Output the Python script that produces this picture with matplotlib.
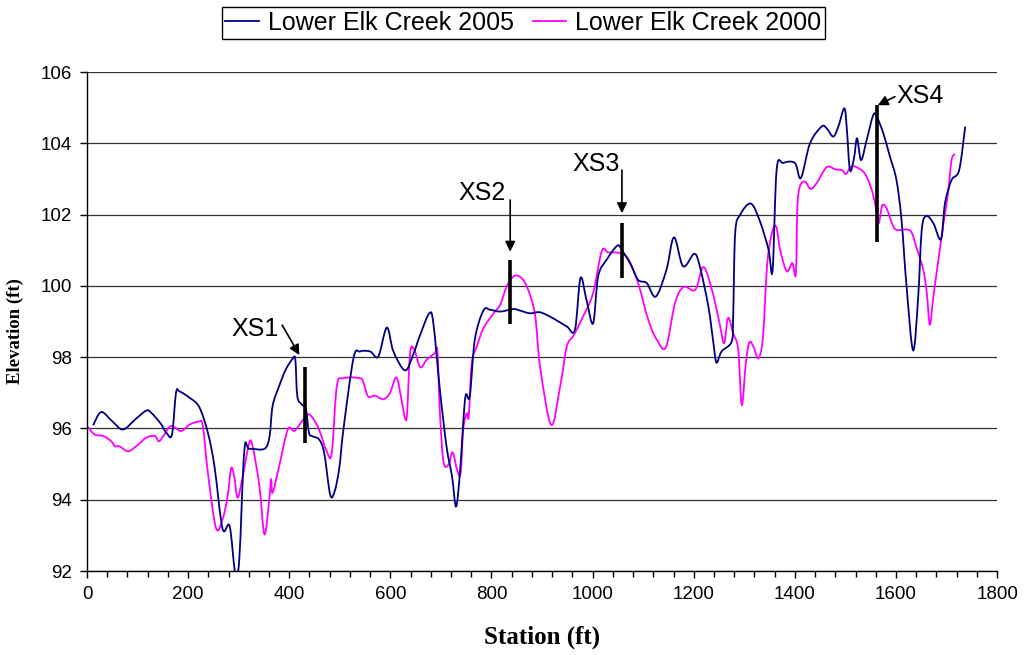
import matplotlib
matplotlib.use("Agg")
import matplotlib.pyplot as plt
import numpy as np
from matplotlib.lines import Line2D
from matplotlib.patches import PathPatch
from matplotlib.path import Path
from matplotlib.ticker import MultipleLocator

# surveyed thalweg profiles
station_2005 = [12, 28, 50, 71, 95, 117, 127, 145, 157, 168, 176, 183, 203, 222, 239, 252,
                268, 282, 293, 301, 311, 321, 351, 361, 367, 380, 393, 407, 412, 416, 425,
                433, 439, 446, 459, 469, 481, 490, 499, 507, 527, 540, 560, 576, 593, 606,
                629, 645, 659, 677, 685, 698, 711, 722, 730, 738, 748, 757, 767, 784, 797,
                817, 843, 856, 876, 896, 922, 949, 965, 976, 988, 1001, 1011, 1028, 1049,
                1058, 1074, 1090, 1107, 1125, 1146, 1161, 1179, 1201, 1212, 1229, 1239,
                1245, 1255, 1275, 1278, 1282, 1292, 1313, 1331, 1348, 1356, 1364, 1377,
                1400, 1412, 1430, 1453, 1463, 1476, 1486, 1498, 1503, 1509, 1517, 1523,
                1531, 1542, 1555, 1562, 1575, 1588, 1601, 1611, 1621, 1634, 1644, 1651,
                1660, 1674, 1689, 1697, 1710, 1725, 1737]
elev_2005 = [96.09, 96.46, 96.2, 95.97, 96.25, 96.5, 96.44, 96.15, 95.88, 95.83, 97.0, 97.04,
             96.86, 96.6, 95.88, 94.94, 93.19, 93.26, 91.95, 92.3, 95.36, 95.43, 95.43,
             95.78, 96.63, 97.19, 97.65, 97.96, 97.93, 96.9, 96.67, 96.53, 95.88, 95.78,
             95.69, 95.32, 94.14, 94.25, 94.9, 95.96, 97.97, 98.16, 98.16, 98.02, 98.83,
             98.16, 97.63, 98.07, 98.63, 99.23, 98.95, 97.08, 95.5, 94.65, 93.81, 94.84,
             96.85, 96.9, 98.49, 99.31, 99.33, 99.28, 99.35, 99.31, 99.23, 99.26, 99.09,
             98.86, 98.77, 100.22, 99.6, 98.95, 100.27, 100.74, 101.13, 101.0, 100.64,
             100.17, 100.08, 99.7, 100.45, 101.36, 100.55, 100.9, 100.55, 99.42, 98.39,
             97.85, 98.16, 98.44, 99.14, 101.48, 102.0, 102.31, 101.81, 101.02, 100.44,
             103.26, 103.45, 103.45, 103.03, 104.0, 104.47, 104.42, 104.19, 104.47, 104.98,
             104.37, 103.25, 103.58, 104.14, 103.53, 104.09, 104.79, 104.75, 104.28,
             103.63, 102.97, 101.85, 99.98, 98.19, 99.7, 101.57, 101.96, 101.76, 101.31,
             102.32, 102.97, 103.25, 104.47]

station_2000 = [0, 15, 32, 48, 55, 64, 81, 97, 117, 134, 142, 151, 166, 186, 203, 221, 229,
                239, 255, 268, 278, 285, 291, 298, 308, 321, 328, 341, 351, 361, 364, 367,
                380, 397, 410, 423, 436, 446, 459, 474, 484, 494, 507, 540, 547, 556, 570,
                586, 599, 612, 622, 629, 633, 639, 647, 659, 672, 688, 693, 698, 705, 715,
                723, 732, 739, 744, 751, 755, 761, 771, 784, 804, 817, 830, 843, 856, 870,
                886, 896, 918, 936, 949, 962, 981, 1001, 1018, 1031, 1054, 1071, 1090, 1110,
                1127, 1145, 1163, 1180, 1203, 1219, 1236, 1251, 1260, 1268, 1278, 1288,
                1295, 1303, 1310, 1318, 1328, 1337, 1345, 1354, 1363, 1371, 1384, 1395,
                1402, 1405, 1410, 1420, 1431, 1443, 1463, 1480, 1493, 1501, 1510, 1519,
                1535, 1545, 1554, 1561, 1566, 1572, 1577, 1583, 1592, 1601, 1628, 1641,
                1654, 1661, 1667, 1674, 1684, 1694, 1703, 1710, 1717]
elev_2000 = [96.07, 95.83, 95.79, 95.64, 95.5, 95.5, 95.36, 95.5, 95.74, 95.79, 95.64, 95.79,
             96.07, 95.93, 96.11, 96.19, 96.07, 94.76, 93.21, 93.45, 94.1, 94.88, 94.66,
             94.06, 94.66, 95.6, 95.46, 94.38, 93.03, 94.1, 94.59, 94.2, 94.94, 95.97,
             95.93, 96.16, 96.39, 96.3, 95.97, 95.36, 95.31, 97.18, 97.41, 97.41, 97.27,
             96.9, 96.92, 96.82, 96.99, 97.43, 96.8, 96.29, 96.43, 98.11, 98.22, 97.72,
             97.93, 98.11, 98.16, 96.43, 95.07, 94.98, 95.33, 94.84, 94.75, 95.96, 96.43,
             96.34, 97.83, 98.3, 98.81, 99.23, 99.47, 99.98, 100.26, 100.26, 99.98, 99.2,
             97.74, 96.1, 97.2, 98.3, 98.6, 99.14, 99.8, 100.97, 100.94, 100.92, 100.74,
             100.08, 99.05, 98.49, 98.28, 99.52, 99.97, 99.89, 100.53, 99.89, 98.96, 98.39,
             99.1, 98.67, 98.21, 96.66, 97.83, 98.41, 98.3, 97.97, 98.58, 100.55, 101.44,
             101.67, 101.0, 100.41, 100.64, 100.34, 102.22, 102.79, 102.93, 102.72, 102.88,
             103.33, 103.27, 103.25, 103.14, 103.33, 103.35, 103.21, 102.97, 102.6,
             102.13, 101.76, 102.22, 102.27, 102.13, 101.76, 101.57, 101.55, 101.06,
             100.45, 99.8, 98.91, 99.7, 100.73, 101.76, 102.6, 103.53, 103.7]

# cross-section locations and the elevation span of each marker
xs_names = ["XS1", "XS2", "XS3", "XS4"]
xs_station = [432, 837, 1058, 1562]
xs_low = [95.6, 98.93, 100.21, 101.24]
xs_high = [97.73, 100.74, 101.77, 105.07]

# label placement: (text x, text y, arrow start, arrow tip)
xs_callouts = [
    ((332, 98.8), (386, 98.9), (420, 98.06)),
    ((781, 102.62), (837, 102.41), (837, 100.96)),
    ((1006, 103.42), (1058, 103.25), (1058, 102.04)),
    ((1648, 105.33), (1598, 105.31), (1564, 105.07)),
]

sans = "Liberation Sans"
serif = "Liberation Serif"


def smooth_path(x, y):
    """Cubic Bezier path through the points (spreadsheet-style smoothed line)."""
    p = np.column_stack([x, y]).astype(float)
    ext = np.vstack([p[0], p, p[-1]])
    verts = [p[0]]
    codes = [Path.MOVETO]
    for i in range(len(p) - 1):
        c1 = p[i] + (ext[i + 2] - ext[i]) / 6.0
        c2 = p[i + 1] - (ext[i + 3] - ext[i + 1]) / 6.0
        verts += [c1, c2, p[i + 1]]
        codes += [Path.CURVE4] * 3
    return Path(verts, codes)


fig = plt.figure(figsize=(10.24, 6.55), dpi=100)
ax = fig.add_axes([0.085, 0.1282, 0.8887, 0.7618])

series = [
    (station_2005, elev_2005, "#000080", "Lower Elk Creek 2005", 3),
    (station_2000, elev_2000, "#FF00FF", "Lower Elk Creek 2000", 2),
]
handles = []
for x, y, color, label, z in series:
    ax.add_patch(PathPatch(smooth_path(x, y), fill=False, edgecolor=color, lw=1.3,
                           zorder=z, transform=ax.transData))
    handles.append(Line2D([], [], color=color, lw=1.3, label=label))

for name, x, lo, hi, (txt, start, tip) in zip(xs_names, xs_station, xs_low, xs_high, xs_callouts):
    ax.plot([x, x], [lo, hi], color="black", lw=2.6, solid_capstyle="butt", zorder=4)
    ax.annotate("", xy=tip, xytext=start,
                arrowprops=dict(arrowstyle="-|>", color="black", lw=1.2,
                                mutation_scale=15, shrinkA=0, shrinkB=0),
                zorder=5)
    ax.text(txt[0], txt[1], name, ha="center", va="center", fontsize=18,
            family=sans, zorder=5)

ax.set_xlim(0, 1800)
ax.set_ylim(92, 106)
ax.xaxis.set_major_locator(MultipleLocator(200))
ax.xaxis.set_minor_locator(MultipleLocator(40))
ax.yaxis.set_major_locator(MultipleLocator(2))
ax.grid(axis="y", color="#333333", lw=0.9)
ax.set_axisbelow(True)

for side in ("top", "right"):
    ax.spines[side].set_visible(False)
for side in ("left", "bottom"):
    ax.spines[side].set_color("black")
    ax.spines[side].set_linewidth(1.0)

ax.tick_params(axis="both", which="major", direction="out", length=5, width=1,
               labelsize=13.5, pad=6)
ax.tick_params(axis="x", which="minor", direction="out", length=4, width=1)
for lab in ax.get_xticklabels() + ax.get_yticklabels():
    lab.set_family(sans)

ax.set_xlabel("Station (ft)", fontsize=18, fontweight="bold", family=serif)
ax.set_ylabel("Elevation (ft)", fontsize=13.5, fontweight="bold", family=serif)
ax.xaxis.set_label_coords(0.5, -0.11)
ax.yaxis.set_label_coords(-0.069, 0.48)

leg = fig.legend(handles=handles, loc="center", bbox_to_anchor=(0.511, 0.965), ncol=2,
                 prop={"family": sans, "size": 18}, frameon=True, fancybox=False,
                 edgecolor="black", framealpha=1, handlelength=1.35,
                 handletextpad=0.35, columnspacing=0.75, borderpad=0.15,
                 borderaxespad=0)
leg.get_frame().set_linewidth(1.0)

fig.savefig("out.png", dpi=100)
